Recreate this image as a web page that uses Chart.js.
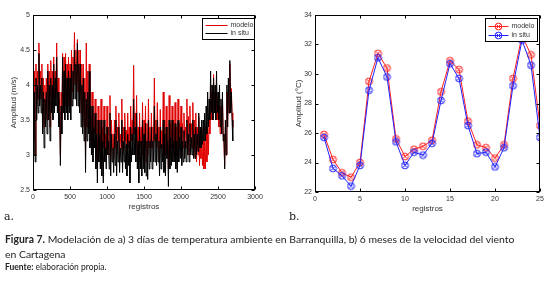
<!DOCTYPE html>
<html>
<head>
<meta charset="utf-8">
<script src="https://cdn.jsdelivr.net/npm/chart.js@4.4.1/dist/chart.umd.min.js"></script>
<style>
  html, body { margin:0; padding:0; background:#fff; }
  body { width:548px; height:303px; position:relative; overflow:hidden; }
  #wa { position:absolute; left:0; top:0; }
  #wb { position:absolute; left:274px; top:0; }
  .lbl { position:absolute; top:210px; font:11px "DejaVu Serif", serif; color:#222; }
  #cap { position:absolute; left:5px; top:232px; width:522px; font:10.4px Lato, "Open Sans", sans-serif; color:#222; line-height:15px; }
  #src { position:absolute; left:5px; top:262px; font:8.5px Lato, "Open Sans", sans-serif; color:#222; }
</style>
</head>
<body>
<div id="wa"><canvas id="ca" width="272" height="215"></canvas></div>
<div id="wb"><canvas id="cb" width="274" height="215"></canvas></div>
<div class="lbl" style="left:4px">a.</div>
<div class="lbl" style="left:289px">b.</div>
<div id="cap"><b>Figura 7.</b> Modelación de a) 3 días de temperatura ambiente en Barranquilla, b) 6 meses de la velocidad del viento en Cartagena</div>
<div id="src"><b>Fuente:</b> elaboración propia.</div>
<script>
// a) un valor cada 10 registros (0..2700), leído a ojo de la figura
const stepA = 10;
const modeloA = [
  3.9,3.2,4.2,3.0,4.3,3.7,4.2,3.8,4.6,3.9,
  4.2,3.8,4.3,3.5,4.1,3.4,4.0,3.6,4.1,3.5,
  4.3,3.7,4.2,3.4,4.35,3.8,4.2,3.7,4.4,3.8,
  4.2,3.9,4.6,3.8,4.1,3.6,3.8,3.0,3.9,3.5,
  4.45,3.8,4.4,3.7,4.45,3.8,4.3,3.7,4.4,3.8,
  4.3,3.7,4.5,3.9,4.4,4.0,4.75,4.0,4.5,3.9,
  4.65,3.9,4.5,3.8,4.5,3.6,4.3,3.5,4.3,3.4,
  4.1,3.0,4.6,3.4,4.2,3.5,4.3,3.3,3.9,3.2,
  3.9,3.1,3.6,3.3,3.8,3.0,3.5,2.8,3.7,3.1,
  3.5,3.0,3.8,2.9,3.4,3.1,3.7,3.0,3.3,3.0,
  3.7,3.2,3.4,3.0,3.85,2.9,3.5,3.1,3.3,2.95,
  3.5,3.1,3.7,3.0,3.4,3.2,3.6,2.95,3.3,3.1,
  3.8,3.0,3.4,3.1,3.6,3.2,3.35,3.0,3.6,3.1,
  3.4,2.9,3.7,3.2,3.5,3.3,4.28,3.3,3.6,3.2,
  3.85,3.0,3.4,2.9,3.6,3.1,3.4,3.0,3.75,3.0,
  3.5,3.1,3.7,2.9,3.45,3.0,3.8,3.1,3.4,3.1,
  3.6,3.1,3.4,3.2,4.1,3.2,3.5,3.1,3.75,3.2,
  3.4,2.9,3.65,3.1,3.35,3.1,3.9,3.0,3.5,3.0,
  3.7,3.2,3.4,2.8,3.85,3.0,3.45,3.1,3.7,3.1,
  3.5,3.1,3.75,3.0,3.4,2.9,3.8,3.1,3.45,3.2,
  3.7,3.0,3.45,3.1,3.6,3.2,3.4,3.1,3.8,3.0,
  3.55,3.0,3.7,3.2,3.45,3.1,3.75,3.0,3.5,2.95,
  3.6,2.9,3.4,3.0,3.55,2.85,3.35,2.95,3.4,2.85,
  3.2,2.8,3.2,2.8,3.4,2.9,3.4,3.0,3.5,3.3,
  4.0,3.5,3.9,3.5,4.15,3.6,3.9,3.5,3.9,3.5,
  3.7,3.4,3.7,3.3,3.7,3.3,3.8,3.3,3.2,2.85,
  3.4,3.0,3.9,3.4,4.0,3.6,4.3,3.7,3.95,3.6,
  3.4
];
const insituA = [
  3.6,3.0,3.9,2.9,4.1,3.5,4.0,3.6,4.45,3.7,
  4.0,3.6,4.1,3.3,3.9,3.1,3.8,3.4,3.9,3.3,
  4.2,3.5,4.0,3.2,4.1,3.6,4.0,3.5,4.3,3.6,
  4.1,3.7,4.4,3.6,3.9,3.4,3.6,2.85,3.7,3.3,
  4.4,3.6,4.2,3.5,4.3,3.6,4.1,3.5,4.2,3.6,
  4.1,3.5,4.3,3.7,4.2,3.8,4.5,3.8,4.3,3.7,
  4.6,3.7,4.3,3.6,4.3,3.4,4.0,3.3,4.1,3.2,
  3.9,2.75,3.8,3.2,3.9,3.3,4.2,3.1,3.7,3.0,
  3.7,2.9,3.4,3.1,3.6,2.8,3.3,2.6,3.5,2.9,
  3.3,2.8,3.5,2.7,3.2,2.6,3.5,2.9,3.1,2.8,
  3.4,3.0,3.2,2.8,3.6,2.7,3.3,2.9,3.1,2.75,
  3.3,2.85,3.5,2.7,3.2,2.9,3.4,2.75,3.1,2.9,
  3.5,2.75,3.2,2.9,3.4,2.8,3.15,2.7,3.3,2.85,
  3.2,2.6,3.4,2.9,3.3,3.0,3.8,3.0,3.4,2.9,
  3.6,2.8,3.2,2.6,3.4,2.8,3.2,2.7,3.5,2.8,
  3.3,2.75,3.45,2.7,3.2,2.65,3.5,2.8,3.2,2.9,
  3.4,2.8,3.2,2.9,3.7,2.9,3.3,2.85,3.5,2.9,
  3.2,2.7,3.4,2.8,3.15,2.9,3.5,2.75,3.3,2.7,
  3.4,2.95,3.2,2.55,3.5,2.8,3.25,2.85,3.5,2.9,
  3.2,2.9,3.45,2.8,3.2,2.75,3.5,2.9,3.25,2.95,
  3.4,2.85,3.2,2.9,3.35,2.95,3.2,2.9,3.5,3.0,
  3.3,2.9,3.45,3.0,3.25,3.0,3.5,2.95,3.3,2.95,
  3.4,3.0,3.3,3.05,3.6,3.1,3.4,3.1,3.5,3.15,
  3.5,3.2,3.6,3.2,3.7,3.3,3.9,3.4,3.8,3.5,
  4.2,3.6,4.0,3.5,4.1,3.6,4.0,3.5,4.2,3.6,
  3.9,3.5,4.0,3.4,3.8,3.3,3.9,3.2,3.3,2.8,
  3.5,3.0,4.0,3.4,4.1,3.6,4.35,3.6,3.9,3.5,
  3.2
];
const xTicksA = [0, 500, 1000, 1500, 2000, 2500, 3000];
const yTicksA = [2.5, 3, 3.5, 4, 4.5, 5];

// b) 25 registros
const registrosB = [1,2,3,4,5,6,7,8,9,10,11,12,13,14,15,16,17,18,19,20,21,22,23,24,25];
const modeloB = [25.9,24.2,23.3,23.0,24.0,29.5,31.4,30.4,25.6,24.4,24.9,25.1,25.5,28.8,30.9,30.3,26.8,25.2,25.0,24.3,25.2,29.7,32.6,31.3,26.5];
const insituB = [25.7,23.6,23.1,22.4,23.8,28.9,31.1,29.8,25.4,23.8,24.7,24.5,25.3,28.2,30.7,29.7,26.5,24.6,24.7,23.7,25.0,29.2,32.3,30.6,25.7];
const xTicksB = [0, 5, 10, 15, 20, 25];
const yTicksB = [22, 24, 26, 28, 30, 32, 34];

const FONT = '"Liberation Sans", Arial, sans-serif';
const TXT = '#333';

function marker(color){
  const c = document.createElement('canvas');
  c.width = 9; c.height = 9;
  const g = c.getContext('2d');
  g.strokeStyle = color; g.lineWidth = 1;
  g.beginPath(); g.arc(4.5, 4.5, 3.4, 0, Math.PI*2); g.stroke();
  g.beginPath(); g.moveTo(2.4,2.4); g.lineTo(6.6,6.6); g.moveTo(6.6,2.4); g.lineTo(2.4,6.6); g.stroke();
  return c;
}

// marco negro con marcas hacia dentro (estilo matlab) + leyenda en caja
const framePlugin = {
  id: 'frame',
  afterDraw(chart){
    const {ctx, chartArea:a, scales} = chart;
    ctx.save();
    ctx.strokeStyle = '#000'; ctx.lineWidth = 1;
    const L = Math.round(a.left)+0.5, R = Math.round(a.right)-0.5, T = Math.round(a.top)+0.5, B = Math.round(a.bottom)-0.5;
    ctx.strokeRect(L, T, R-L, B-T);
    ctx.beginPath();
    scales.x.ticks.forEach(t => {
      const px = Math.round(scales.x.getPixelForValue(t.value))+0.5;
      ctx.moveTo(px, B); ctx.lineTo(px, B-3);
      ctx.moveTo(px, T); ctx.lineTo(px, T+3);
    });
    scales.y.ticks.forEach(t => {
      const py = Math.round(scales.y.getPixelForValue(t.value))+0.5;
      ctx.moveTo(L, py); ctx.lineTo(L+3, py);
      ctx.moveTo(R, py); ctx.lineTo(R-3, py);
    });
    ctx.stroke();
    const lg = chart.options.plugins.boxLegend;
    const w = lg.w, h = lg.h;
    const bx = Math.round(a.right) - w - lg.dx + 0.5, by = Math.round(a.top) + lg.dy + 0.5;
    ctx.fillStyle = '#fff';
    ctx.fillRect(bx, by, w, h);
    ctx.strokeStyle = '#000';
    ctx.strokeRect(bx, by, w, h);
    ctx.font = '7px ' + FONT;
    ctx.textBaseline = 'middle';
    chart.data.datasets.forEach((ds, i) => {
      const yy = Math.round(by + lg.row0 + i*lg.rowH) + 0.5;
      ctx.strokeStyle = ds.borderColor; ctx.lineWidth = 1;
      ctx.beginPath(); ctx.moveTo(bx+3, yy); ctx.lineTo(bx+3+lg.lineW, yy); ctx.stroke();
      if (ds.pointStyle instanceof HTMLCanvasElement) ctx.drawImage(ds.pointStyle, Math.round(bx+3+lg.lineW/2-4.5), Math.round(yy-4.5));
      ctx.fillStyle = TXT;
      ctx.fillText(ds.label, bx+lg.lineW+6, yy);
    });
    ctx.restore();
  }
};

function axis(min, max, ticks, title, fit, titlePad, isX){
  return {
    type: 'linear', min, max,
    afterBuildTicks: s => { s.ticks = ticks.map(v => ({value:v})); },
    grid: { display:false, drawTicks:false }, border: { display:false },
    ticks: { font:{size:7, family:FONT}, color:TXT, padding:3, maxRotation:0, autoSkip:false,
             callback: v => String(v) },
    title: { display:true, text:title, font:{size:8, family:FONT}, color:TXT, padding:{top:titlePad, bottom:titlePad} },
    afterFit: s => { if (isX) s.height = fit; else s.width = fit; }
  };
}

new Chart(document.getElementById('ca'), {
  type: 'line',
  data: { datasets: [
    { label:'modelo', data: modeloA.map((v,i)=>({x:i*stepA, y:v})), borderColor:'#e00000', borderWidth:1, pointRadius:0, order:1 },
    { label:'in situ', data: insituA.map((v,i)=>({x:i*stepA, y:v})), borderColor:'#000', borderWidth:1, pointRadius:0, order:0 }
  ]},
  options: {
    responsive:false, animation:false, devicePixelRatio:1,
    layout: { padding:{ top:15, right:17, left:0, bottom:0 } },
    plugins: { legend:{display:false}, tooltip:{enabled:false},
      boxLegend:{ w:52, h:21, dx:1, dy:3, row0:6, rowH:8.5, lineW:22 } },
    scales: {
      x: axis(0, 3000, xTicksA, 'registros', 25, 3, true),
      y: axis(2.5, 5, yTicksA, 'Amplitud (m/s)', 33, 9, false)
    }
  },
  plugins: [framePlugin]
});

new Chart(document.getElementById('cb'), {
  type: 'line',
  data: { datasets: [
    { label:'modelo', data: modeloB.map((v,i)=>({x:registrosB[i], y:v})), borderColor:'#ff2020', borderWidth:1, pointStyle:marker('#ff2020'), order:1 },
    { label:'in situ', data: insituB.map((v,i)=>({x:registrosB[i], y:v})), borderColor:'#2020ff', borderWidth:1, pointStyle:marker('#2020ff'), order:0 }
  ]},
  options: {
    responsive:false, animation:false, devicePixelRatio:1,
    layout: { padding:{ top:15, right:8, left:0, bottom:0 } },
    plugins: { legend:{display:false}, tooltip:{enabled:false},
      boxLegend:{ w:52, h:23, dx:3, dy:3, row0:7, rowH:9, lineW:20 } },
    scales: {
      x: axis(0, 25, xTicksB, 'registros', 23, 1, true),
      y: axis(22, 34, yTicksB, 'Amplitud (°C)', 41, 20, false)
    }
  },
  plugins: [framePlugin]
});
</script>
</body>
</html>
